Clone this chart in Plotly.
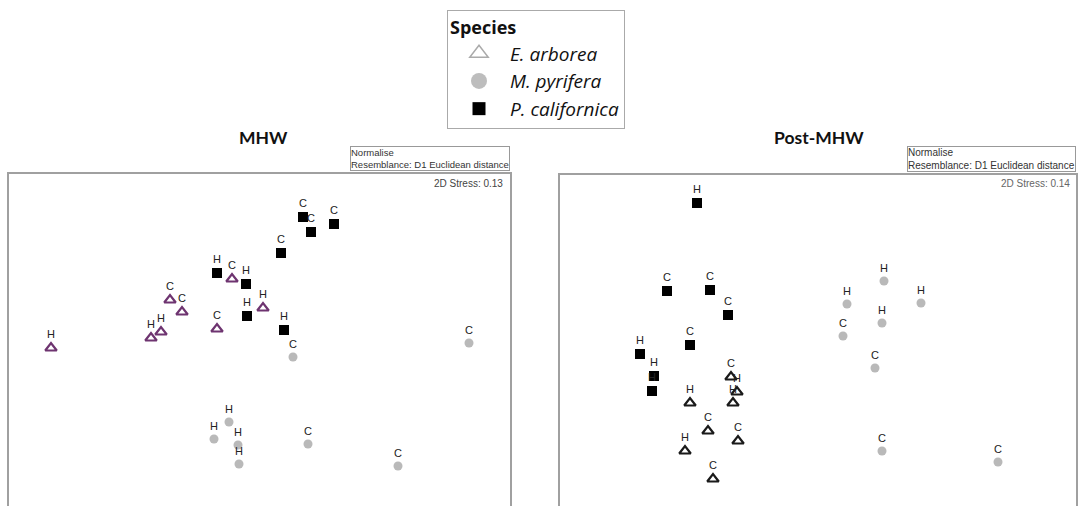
import plotly.graph_objects as go

# ---- MHW panel (nMDS coordinates) ----
mhw_pc_x = [0.43, 0.51, 0.74, 0.21, -0.43, -0.14, -0.13, 0.24]
mhw_pc_y = [1.23, 1.08, 1.16, 0.87, 0.67, 0.56, 0.24, 0.10]
mhw_pc_lab = ["C", "C", "C", "C", "H", "H", "H", "H"]

mhw_ea_x = [-0.28, -0.90, -0.78, 0.03, -0.43, -0.99, -1.09, -2.09]
mhw_ea_y = [0.61, 0.40, 0.28, 0.32, 0.11, 0.08, 0.02, -0.08]
mhw_ea_lab = ["C", "C", "C", "H", "C", "H", "H", "H"]

mhw_mp_x = [0.33, 2.09, -0.31, -0.46, -0.22, -0.21, 0.48, 1.38]
mhw_mp_y = [-0.17, -0.03, -0.82, -0.99, -1.05, -1.24, -1.04, -1.26]
mhw_mp_lab = ["C", "C", "H", "H", "H", "H", "C", "C"]

# ---- Post-MHW panel ----
post_pc_x = [-1.21, -1.51, -1.08, -0.90, -1.28, -1.78, -1.64, -1.66]
post_pc_y = [1.37, 0.49, 0.50, 0.25, -0.05, -0.14, -0.36, -0.51]
post_pc_lab = ["H", "C", "C", "C", "C", "H", "H", "H"]

post_ea_x = [-0.87, -0.81, -0.85, -1.28, -1.10, -0.80, -1.33, -1.05]
post_ea_y = [-0.37, -0.52, -0.63, -0.63, -0.91, -1.01, -1.11, -1.39]
post_ea_lab = ["C", "H", "H", "H", "C", "C", "H", "C"]

post_mp_x = [0.66, 0.29, 1.03, 0.64, 0.25, 0.57, 0.64, 1.80]
post_mp_y = [0.59, 0.36, 0.37, 0.17, 0.04, -0.28, -1.11, -1.22]
post_mp_lab = ["H", "H", "H", "H", "C", "C", "C", "C"]

species = ["<i>E. arborea</i>", "<i>M. pyrifera</i>", "<i>P. californica</i>"]
titles = ["MHW", "Post-MHW"]
stress = ["2D Stress: 0.13", "2D Stress: 0.14"]
resemblance = "Normalise<br>Resemblance: D1 Euclidean distance"

W, H = 1078, 506
txtfont = dict(family="Liberation Sans, Arial", size=11, color="#222")

fig = go.Figure()

def add_panel(xa, ya, pcx, pcy, pcl, eax, eay, eal, mpx, mpy, mpl, tri_col):
    fig.add_trace(go.Scatter(x=mpx, y=mpy, text=mpl, mode="markers+text",
                             textposition="top center", textfont=txtfont,
                             marker=dict(symbol="circle", size=9, color="#b9b9b9"),
                             xaxis=xa, yaxis=ya, showlegend=False, hoverinfo="skip"))
    fig.add_trace(go.Scatter(x=pcx, y=pcy, text=pcl, mode="markers+text",
                             textposition="top center", textfont=txtfont,
                             marker=dict(symbol="square", size=10, color="#000"),
                             xaxis=xa, yaxis=ya, showlegend=False, hoverinfo="skip"))
    fig.add_trace(go.Scatter(x=eax, y=eay, text=eal, mode="markers+text",
                             textposition="top center", textfont=txtfont,
                             marker=dict(symbol="triangle-up-open", size=10,
                                         color=tri_col, line=dict(width=2.2, color=tri_col)),
                             xaxis=xa, yaxis=ya, showlegend=False, hoverinfo="skip"))

add_panel("x", "y", mhw_pc_x, mhw_pc_y, mhw_pc_lab, mhw_ea_x, mhw_ea_y, mhw_ea_lab,
          mhw_mp_x, mhw_mp_y, mhw_mp_lab, "#6e3470")
add_panel("x2", "y2", post_pc_x, post_pc_y, post_pc_lab, post_ea_x, post_ea_y, post_ea_lab,
          post_mp_x, post_mp_y, post_mp_lab, "#1a1a1a")

# legend entries
fig.add_trace(go.Scatter(x=[None], y=[None], mode="markers", name=species[0],
                         marker=dict(symbol="triangle-up-open", size=16, color="#aaa",
                                     line=dict(width=1.5, color="#aaa"))))
fig.add_trace(go.Scatter(x=[None], y=[None], mode="markers", name=species[1],
                         marker=dict(symbol="circle", size=16, color="#bdbdbd")))
fig.add_trace(go.Scatter(x=[None], y=[None], mode="markers", name=species[2],
                         marker=dict(symbol="square", size=13, color="#000")))

ax_common = dict(showgrid=False, zeroline=False, showticklabels=False, ticks="",
                 showline=True, linecolor="#a0a0a0", linewidth=1.5, fixedrange=True)

fig.update_layout(
    width=W, height=H,
    margin=dict(l=0, r=0, t=0, b=0),
    paper_bgcolor="white", plot_bgcolor="white",
    xaxis=dict(domain=[9 / W, 510 / W], range=[-2.51, 2.50], side="top", anchor="y", **ax_common),
    yaxis=dict(domain=[0, 1 - 174 / H], range=[-1.66, 1.66], mirror=True, anchor="x", **ax_common),
    xaxis2=dict(domain=[560 / W, 1076 / W], range=[-2.58, 2.58], side="top", anchor="y2", **ax_common),
    yaxis2=dict(domain=[0, 1 - 175 / H], range=[-1.66, 1.65], mirror=True, anchor="x2", **ax_common),
    legend=dict(x=447 / W, y=1 - 10 / H, xanchor="left", yanchor="top",
                bordercolor="#aaa", borderwidth=1, bgcolor="white",
                font=dict(family="Open Sans", size=19, color="#111"),
                title=dict(text="<b>Species</b>", font=dict(family="Open Sans", size=18, color="#111")),
                itemwidth=52, tracegroupgap=0),
    showlegend=True,
)

# titles
for t, xc in zip(titles, [263, 819]):
    fig.add_annotation(text=f"<b>{t}</b>", x=xc / W, y=1 - 137 / H, xref="paper", yref="paper",
                       xanchor="center", yanchor="middle", showarrow=False,
                       font=dict(family="Lato", size=17.5, color="#111"))

# resemblance boxes
for xr, fs in zip([510, 1076], [9.5, 10]):
    fig.add_annotation(text=resemblance, x=xr / W, y=1 - 146 / H, xref="paper", yref="paper",
                       xanchor="right", yanchor="top", showarrow=False, align="left",
                       bordercolor="#999", borderwidth=1, borderpad=0, bgcolor="white",
                       font=dict(family="Liberation Sans, Arial", size=fs, color="#333"))

# stress
for s, xr, col in zip(stress, [505, 1072], ["#444", "#666"]):
    fig.add_annotation(text=s, x=xr / W, y=1 - 176 / H, xref="paper", yref="paper",
                       xanchor="right", yanchor="top", showarrow=False,
                       font=dict(family="Liberation Sans, Arial", size=10, color=col))

fig.write_html("out.html")
